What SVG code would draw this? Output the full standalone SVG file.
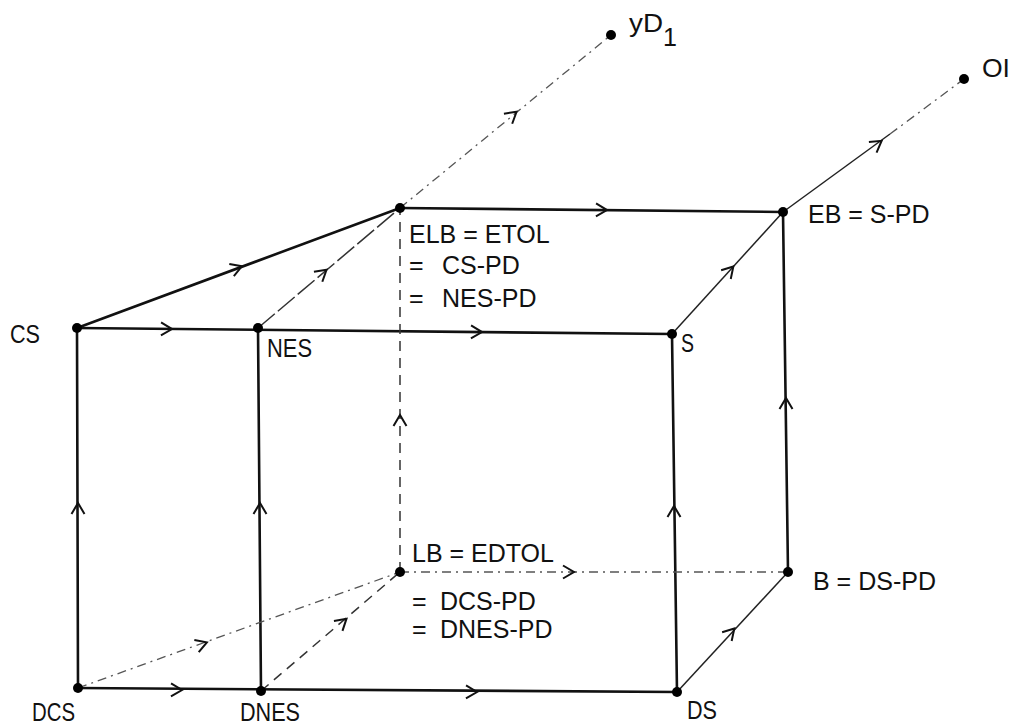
<svg xmlns="http://www.w3.org/2000/svg" width="1012" height="727" viewBox="0 0 1012 727">
<style>
.thick{stroke:#111;stroke-width:2.6;fill:none;stroke-linecap:round}
.thin{stroke:#222;stroke-width:1.5;fill:none}
.dash{stroke:#333;stroke-width:1.5;fill:none;stroke-dasharray:10 7}
.dashdot{stroke:#555;stroke-width:1.3;fill:none;stroke-dasharray:9 5 2 5}
.chev{stroke:#111;stroke-width:2;fill:none;stroke-linejoin:miter}
.dot{fill:#000}
text{font-family:"Liberation Sans",Arial,sans-serif;font-size:25px;fill:#111}
</style>
<defs>
<path id="arr" class="chev" d="M-9,-6.5 L2,0 L-9,6.5"/>
</defs>
<g id="connectors">
<line class="thick" x1="77" y1="328" x2="400" y2="208"/>
<line class="thick" x1="400" y1="208" x2="783" y2="212"/>
<line class="thick" x1="77" y1="328" x2="672" y2="334"/>
<line class="thick" x1="77" y1="328" x2="78" y2="688"/>
<line class="thick" x1="258" y1="328" x2="261" y2="691"/>
<line class="thick" x1="672" y1="334" x2="677" y2="692"/>
<line class="thick" x1="783" y1="212" x2="788" y2="572"/>
<line class="thick" x1="78" y1="688" x2="677" y2="692"/>
<line class="thin" x1="672" y1="334" x2="783" y2="212"/>
<line class="thin" x1="677" y1="692" x2="788" y2="572"/>
<line class="thin" x1="783" y1="212" x2="890" y2="134"/>
<line class="dashdot" x1="890" y1="134" x2="964" y2="79"/>
<line class="dash" x1="258" y1="328" x2="400" y2="208" style="stroke-dasharray:22 4"/>
<line class="dashdot" x1="400" y1="208" x2="611" y2="35"/>
<line class="dash" x1="400" y1="572" x2="400" y2="208"/>
<line class="dashdot" x1="78" y1="688" x2="400" y2="572"/>
<line class="dash" x1="261" y1="691" x2="400" y2="572"/>
<line class="dashdot" x1="400" y1="572" x2="788" y2="572"/>
<use href="#arr" transform="translate(240,267) rotate(-20.4)"/>
<use href="#arr" transform="translate(325,271) rotate(-40.2)"/>
<use href="#arr" transform="translate(515,113) rotate(-39.5)"/>
<use href="#arr" transform="translate(605,210) rotate(0.6)"/>
<use href="#arr" transform="translate(880,142) rotate(-36)"/>
<use href="#arr" transform="translate(170,329) rotate(0.6)"/>
<use href="#arr" transform="translate(480,332) rotate(0.6)"/>
<use href="#arr" transform="translate(732,268) rotate(-47.7)"/>
<use href="#arr" transform="translate(400,417) rotate(-90)"/>
<use href="#arr" transform="translate(78,505) rotate(-90)"/>
<use href="#arr" transform="translate(260,505) rotate(-90)"/>
<use href="#arr" transform="translate(674,508) rotate(-90)"/>
<use href="#arr" transform="translate(786,400) rotate(-90)"/>
<use href="#arr" transform="translate(205,643) rotate(-19.8)"/>
<use href="#arr" transform="translate(345,620) rotate(-41)"/>
<use href="#arr" transform="translate(572,572)"/>
<use href="#arr" transform="translate(180,690) rotate(0.4)"/>
<use href="#arr" transform="translate(475,692) rotate(0.4)"/>
<use href="#arr" transform="translate(733,630) rotate(-47.2)"/>
</g>
<g id="node-yD1"><circle class="dot" cx="611" cy="35" r="5"/><text x="629" y="32" textLength="34" lengthAdjust="spacingAndGlyphs">yD</text><text x="663" y="46" font-size="20">1</text></g>
<g id="node-OI"><circle class="dot" cx="964" cy="79" r="5"/><text x="982" y="77" textLength="28" lengthAdjust="spacingAndGlyphs">OI</text></g>
<g id="node-ELB"><circle class="dot" cx="400" cy="208" r="5"/><text x="409" y="243">ELB = ETOL</text><text x="409" y="274">= <tspan x="442">CS-PD</tspan></text><text x="409" y="307">= <tspan x="442">NES-PD</tspan></text></g>
<g id="node-EB"><circle class="dot" cx="783" cy="212" r="5"/><text x="808" y="223">EB = S-PD</text></g>
<g id="node-CS"><circle class="dot" cx="77" cy="328" r="5"/><text x="10" y="343" textLength="30" lengthAdjust="spacingAndGlyphs">CS</text></g>
<g id="node-NES"><circle class="dot" cx="258" cy="328" r="5"/><text x="267" y="357" textLength="45" lengthAdjust="spacingAndGlyphs">NES</text></g>
<g id="node-S"><circle class="dot" cx="672" cy="334" r="5"/><text x="681" y="352" textLength="13" lengthAdjust="spacingAndGlyphs">S</text></g>
<g id="node-LB"><circle class="dot" cx="400" cy="572" r="5"/><text x="412" y="562">LB = EDTOL</text><text x="412" y="610">= <tspan x="440">DCS-PD</tspan></text><text x="412" y="638">= <tspan x="440">DNES-PD</tspan></text></g>
<g id="node-B"><circle class="dot" cx="788" cy="572" r="5"/><text x="813" y="590">B = DS-PD</text></g>
<g id="node-DCS"><circle class="dot" cx="78" cy="688" r="5"/><text x="32" y="721" textLength="43" lengthAdjust="spacingAndGlyphs">DCS</text></g>
<g id="node-DNES"><circle class="dot" cx="261" cy="691" r="5"/><text x="240" y="721" textLength="60" lengthAdjust="spacingAndGlyphs">DNES</text></g>
<g id="node-DS"><circle class="dot" cx="677" cy="692" r="5"/><text x="687" y="719" textLength="30" lengthAdjust="spacingAndGlyphs">DS</text></g>
</svg>
